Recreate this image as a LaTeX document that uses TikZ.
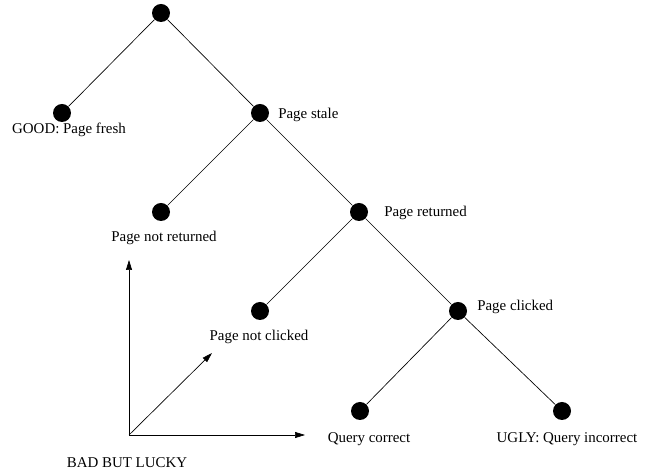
\documentclass[tikz,border=0pt]{standalone}
\usepackage{fontspec}
\setmainfont{Liberation Serif}
\usetikzlibrary{arrows.meta}

\tikzset{
  dot/.style={circle,fill=black,inner sep=0pt,minimum size=13.5pt},
  lbl/.style={inner sep=0.75pt,font=\fontsize{11.2}{13}\selectfont},
  axis/.style={line width=0.5pt,-{Triangle[length=7.5pt,width=4.5pt]}}
}

\begin{document}
\begin{tikzpicture}[x=0.75pt,y=0.75pt,yscale=-1,xscale=1]
\useasboundingbox (0,0) rectangle (654,473);

% tree dots
\node [dot] (root) at (161,13) {};
\node [dot] (fresh) at (62,113) {};
\node [dot] (stale) at (260,113) {};
\node [dot] (notret) at (161,212) {};
\node [dot] (ret) at (359,212) {};
\node [dot] (notclk) at (260,311) {};
\node [dot] (clk) at (458,311) {};
\node [dot] (qok) at (360,411) {};
\node [dot] (qbad) at (562,411) {};

% branches
\draw [line width=0.5pt] (root) -- (fresh) ;
\draw [line width=0.5pt] (root) -- (stale) ;
\draw [line width=0.5pt] (stale) -- (notret) ;
\draw [line width=0.5pt] (stale) -- (ret) ;
\draw [line width=0.5pt] (ret) -- (notclk) ;
\draw [line width=0.5pt] (ret) -- (clk) ;
\draw [line width=0.5pt] (clk) -- (qok) ;
\draw [line width=0.5pt] (clk) -- (qbad) ;

% labels
\node [lbl] (lfresh) at (69,130) {GOOD: Page fresh};
\node [lbl,anchor=west] (lstale) at (277,115) {Page stale};
\node [lbl] (lnotret) at (164,238) {Page not returned};
\node [lbl,anchor=west] (lret) at (383,213) {Page returned};
\node [lbl] (lnotclk) at (259,337) {Page not clicked};
\node [lbl,anchor=west] (lclk) at (476,307) {Page clicked};
\node [lbl] (lqok) at (369,439) {Query correct};
\node [lbl] (lqbad) at (567,439) {UGLY: Query incorrect};
\node [lbl] (llucky) at (127,463) {BAD BUT LUCKY};

% axes
\coordinate (o) at (129,435);
\coordinate (ytip) at (129,260);
\coordinate (xtip) at (305,435);
\coordinate (ztip) at (212,353);
\draw [axis] (o) -- (ytip) ;
\draw [axis] (o) -- (xtip) ;
\draw [axis] (o) -- (ztip) ;

\end{tikzpicture}
\end{document}
